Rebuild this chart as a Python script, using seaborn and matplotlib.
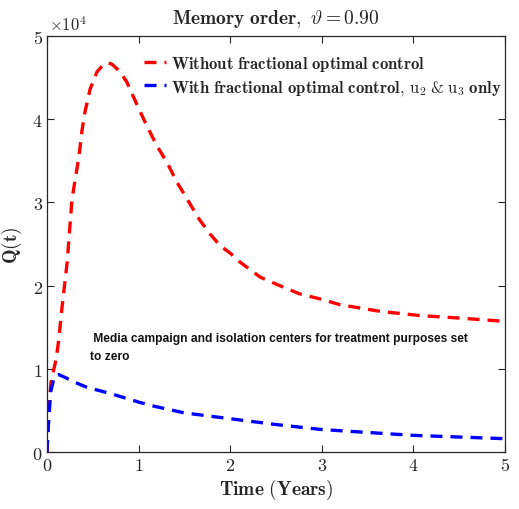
import numpy as np
import pandas as pd
import matplotlib
matplotlib.use("Agg")
import matplotlib.pyplot as plt
import seaborn as sns
from matplotlib.lines import Line2D

# Q(t) trajectories, in units of 1e4
t_without = [0, 0.01, 0.02, 0.044, 0.076, 0.1, 0.13, 0.16, 0.22, 0.273, 0.35,
             0.38, 0.415, 0.47, 0.546, 0.62, 0.665, 0.71, 0.79, 0.87, 0.98,
             1.09, 1.2, 1.31, 1.42, 1.53, 1.66, 1.78, 1.89, 2.0, 2.11, 2.33,
             2.54, 2.76, 2.98, 3.2, 3.42, 3.64, 4.07, 4.5, 5.0]
q_without = [0, 0.25, 0.55, 0.84, 1.0, 1.12, 1.36, 1.7, 2.28, 3.04, 3.56,
             3.85, 4.09, 4.36, 4.57, 4.66, 4.68, 4.66, 4.58, 4.45, 4.18,
             3.92, 3.68, 3.48, 3.24, 3.04, 2.8, 2.62, 2.48, 2.39, 2.28, 2.1,
             2.0, 1.9, 1.84, 1.77, 1.73, 1.69, 1.64, 1.61, 1.57]

t_with = [0, 0.01, 0.04, 0.08, 0.13, 0.19, 0.3, 0.43, 0.7, 1.0, 1.17, 1.5,
          2.0, 2.5, 3.0, 3.5, 4.0, 4.5, 5.0]
q_with = [0, 0.24, 0.72, 0.91, 0.93, 0.9, 0.84, 0.78, 0.70, 0.60, 0.55, 0.47,
          0.40, 0.33, 0.27, 0.235, 0.20, 0.18, 0.16]

labels = [r"$\mathbf{Without\ fractional\ optimal\ control}$",
          r"$\mathbf{With\ fractional\ optimal\ control,}\,\mathrm{u_2}\;\mathrm{&}\;\mathrm{u_3}\ \mathbf{only}$"]
colors = ["#ff0000", "#0000ff"]

x_ticks = [0, 1, 2, 3, 4, 5]
y_ticks = [0, 1, 2, 3, 4, 5]

note = " Media campaign and isolation centers for treatment purposes set\nto zero"

sns.set_theme(style="ticks")
plt.rcParams["mathtext.fontset"] = "cm"
plt.rcParams["font.family"] = ["DejaVu Sans"]

df = pd.concat([
    pd.DataFrame({"t": t_without, "Q": np.array(q_without) * 1e4, "series": labels[0]}),
    pd.DataFrame({"t": t_with, "Q": np.array(q_with) * 1e4, "series": labels[1]}),
])

fig = plt.figure(figsize=(5.19, 5.10), dpi=100)
ax = fig.add_axes([47 / 519, 57 / 510, 458 / 519, 416 / 510])

sns.lineplot(data=df, x="t", y="Q", hue="series", palette=colors, sort=False,
             estimator=None, linewidth=2.4, ax=ax, legend=False)
for line in ax.lines:
    line.set_dashes((3.6, 2.4))

ax.set_xlim(0, 5)
ax.set_ylim(0, 5e4)
ax.set_xticks(x_ticks)
ax.set_xticklabels([f"${v}$" for v in x_ticks], fontsize=13)
ax.set_yticks([v * 1e4 for v in y_ticks])
ax.set_yticklabels([f"${v}$" for v in y_ticks], fontsize=13)
ax.tick_params(direction="in", top=True, right=True, length=5, width=0.8,
               colors="#262626", pad=3)
for s in ax.spines.values():
    s.set_visible(True)
    s.set_linewidth(0.9)
    s.set_color("#262626")

ax.text(0.005, 1.005, r"$\times 10^4$", transform=ax.transAxes, fontsize=12,
        ha="left", va="bottom", color="#262626")

ax.set_title(r"$\mathbf{Memory\ order,}\ \vartheta = 0.90$", fontsize=14, pad=9)
ax.set_xlabel(r"$\mathbf{Time\ (Years)}$", fontsize=14, labelpad=2)
ax.set_ylabel(r"$\mathbf{Q(t)}$", fontsize=14, labelpad=6)

handles = [Line2D([], [], color=c, linewidth=2.4, dashes=(3.6, 2.4)) for c in colors]
ax.legend(handles, labels, loc="upper right", bbox_to_anchor=(1.018, 0.985),
          frameon=False, fontsize=12.0, handlelength=1.3, handletextpad=0.3,
          labelspacing=0.25, borderaxespad=0.3)

ax.text(0.47, 1.44e4, note, family="Liberation Sans", fontweight="bold",
        fontsize=8.65, ha="left", va="top", linespacing=1.65, color="#111111")

fig.savefig("out.png", dpi=100)
